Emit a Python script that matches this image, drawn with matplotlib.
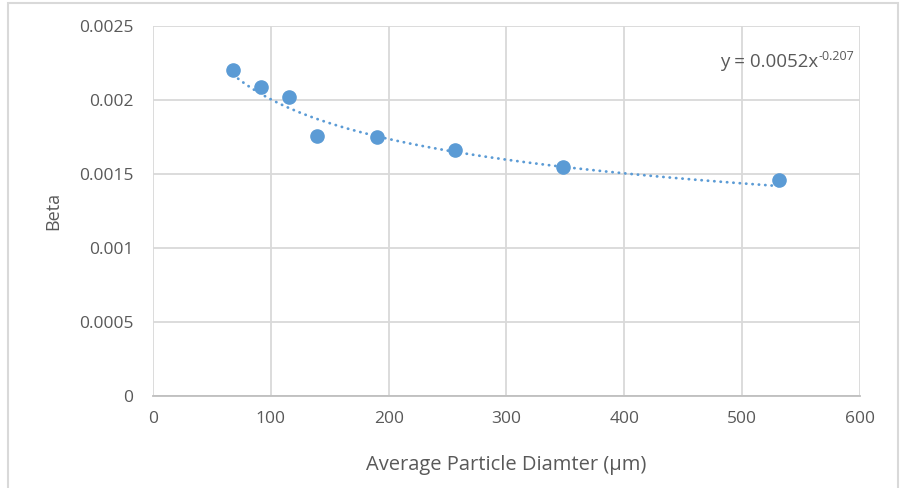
import numpy as np
import matplotlib
matplotlib.use("Agg")
import matplotlib.pyplot as plt
from matplotlib.patches import Rectangle

# data
diameter = [68, 92, 115, 139, 190, 256, 348, 531]
beta = [0.00220, 0.00209, 0.00202, 0.00176, 0.00175, 0.00166, 0.00155, 0.00146]

# power trendline shown on the chart: y = a * x^b
trend_a = 0.0052
trend_b = -0.207

x_ticks = [0, 100, 200, 300, 400, 500, 600]
y_ticks = [0, 0.0005, 0.001, 0.0015, 0.002, 0.0025]
y_labels = ["0", "0.0005", "0.001", "0.0015", "0.002", "0.0025"]

blue = "#5B9BD5"
grey_txt = "#595959"

plt.rcParams['font.family'] = ['Open Sans', 'DejaVu Sans']

W, H = 904, 488
fig = plt.figure(figsize=(W / 100, H / 100), dpi=100)
ax = fig.add_axes([153/W, 1 - 396/H, (860-153)/W, (396-26)/H])

# outer chart frame
fig.patches.append(Rectangle((8/W, -0.1), (898-8)/W, 1.1 - 3/H,
                             transform=fig.transFigure, fill=False,
                             edgecolor="#D9D9D9", linewidth=1.5))

xs = np.linspace(min(diameter), max(diameter), 300)
ax.plot(xs, trend_a * xs ** trend_b, color=blue, linewidth=2,
        linestyle=(0, (0.1, 2.2)), dash_capstyle="round", zorder=2)
ax.plot(diameter, beta, "o", color=blue, markersize=9.5, zorder=3)

ax.set_xlim(0, 600)
ax.set_ylim(0, 0.0025)
ax.set_xticks(x_ticks)
ax.set_yticks(y_ticks)
ax.set_yticklabels(y_labels)
ax.grid(True, color="#D9D9D9", linewidth=1.3)
ax.set_axisbelow(True)
for s in ["top", "right", "left"]:
    ax.spines[s].set_visible(False)
ax.spines["bottom"].set_color("#BFBFBF")
ax.spines["bottom"].set_linewidth(1.3)
ax.tick_params(length=0, labelcolor=grey_txt, labelsize=12.5)
ax.tick_params(axis="y", pad=14)
ax.tick_params(axis="x", pad=11)

ax.set_xlabel("Average Particle Diamter (μm)", color=grey_txt, fontsize=14.5)
ax.set_ylabel("Beta", color=grey_txt, fontsize=13)
ax.xaxis.set_label_coords(0.5, (396 - 465) / 370)
ax.xaxis.label.set_va("center")
ax.yaxis.set_label_coords((53 - 153) / 707, 0.5)
ax.yaxis.label.set_va("center")

# trendline equation, superscript drawn as its own text to keep a plain hyphen
fig.text(818/W, 1 - 67/H, "y = 0.0052x", ha="right", va="baseline",
         color=grey_txt, fontsize=13.5)
fig.text(819/W, 1 - 60/H, "-0.207", ha="left", va="baseline",
         color=grey_txt, fontsize=9)

fig.savefig("out.png", dpi=100)
